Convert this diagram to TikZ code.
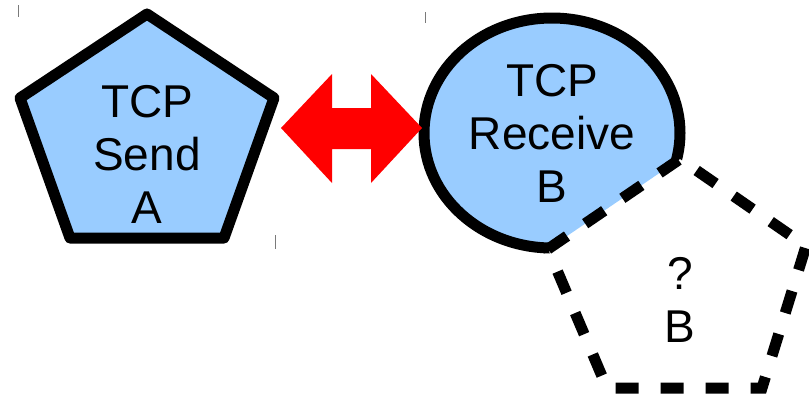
\documentclass[tikz,border=0pt]{standalone}
\usepackage{fontspec}
\setmainfont{Liberation Sans}
\definecolor{paleblue}{HTML}{99CCFF}
\definecolor{markgray}{HTML}{7A7A7A}
\begin{document}
\begin{tikzpicture}[x=1pt,y=-1pt,
  outline/.style={line width=11pt, line join=round},
  dashedline/.style={line width=11pt, line join=miter, dash pattern=on 23pt off 22pt},
  nodetext/.style={font=\fontsize{46}{53}\selectfont, align=center, inner sep=0pt},
  tick/.style={markgray, line width=1pt}]
\useasboundingbox (0,0) rectangle (809,397);

% corners of the dashed pentagon
\coordinate (pl)  at (548,249);
\coordinate (pt)  at (680,159);
\coordinate (pr)  at (806,246);
\coordinate (pbr) at (762,388);
\coordinate (pbl) at (607,388);

% small marks
\draw[tick] (18,5) -- (18,17);
\draw[tick] (425,12) -- (425,23);
\draw[tick] (275,235) -- (275,249);

% sender pentagon
\draw[outline, fill=paleblue] (147,14) -- (274,98) -- (224,238) -- (70,238) -- (20,98) -- cycle;

% receiver: ellipse cut away by the dashed pentagon
\begin{scope}[even odd rule]
  \clip (0,0) rectangle (809,397) (pl) -- (pt) -- (pr) -- (pbr) -- (pbl) -- cycle;
  \filldraw[outline, fill=paleblue] (552,133) ellipse [x radius=128, y radius=115];
\end{scope}

% unknown pentagon
\draw[dashedline] (pl) -- (pt) -- (pr) -- (pbr) -- (pbl) -- cycle;

% double-headed red arrow
\fill[red] (281,128) -- (332,74) -- (332,108) -- (371,108) -- (371,74) -- (422,128)
  -- (371,183) -- (371,149) -- (332,149) -- (332,183) -- cycle;

% labels
\node[nodetext] (sendA) at (147,154.5) {TCP\\Send\\A};
\node[nodetext] (recvB) at (552,133.5) {TCP\\Receive\\B};
\node[nodetext] (unknownB) at (680,300) {?\\B};
\end{tikzpicture}
\end{document}
